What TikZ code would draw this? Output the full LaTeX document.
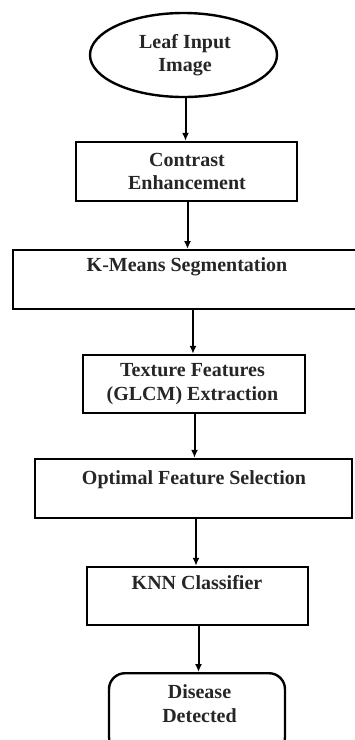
\documentclass[tikz,border=0pt]{standalone}
\usepackage{fontspec}
\setmainfont{Liberation Serif}
\usetikzlibrary{arrows.meta,shapes.geometric}
\begin{document}
\begin{tikzpicture}[x=1pt,y=-1pt,
  box/.style={draw=black,line width=2.4pt,rectangle,inner sep=0pt},
  lbl/.style={inner sep=0pt,align=center,font=\fontsize{20}{23.5}\selectfont\bfseries,text=black!85},
  arr/.style={line width=2pt,-{Latex[length=8pt,width=7pt]}}]
\useasboundingbox (0,0) rectangle (355,740);
% shapes
\node[draw=black,line width=2.4pt,ellipse,minimum width=187pt,minimum height=84pt,inner sep=0pt] (leaf) at (183.5,55) {};
\node[box,minimum width=221pt,minimum height=59pt] (contrast) at (186.5,171.5) {};
\node[box,minimum width=360pt,minimum height=59pt,anchor=north west] (kmeans) at (12,249) {};
\node[box,minimum width=222pt,minimum height=58pt] (texture) at (194,384) {};
\node[box,minimum width=317pt,minimum height=59pt] (optimal) at (193.5,488.5) {};
\node[box,minimum width=221pt,minimum height=58pt] (knn) at (197.5,596) {};
\node[box,rounded corners=16pt,minimum width=176pt,minimum height=80pt,anchor=north] (disease) at (197,672) {};
% labels
\node[lbl] (tleaf) at (185,55) {Leaf Input\\Image};
\node[lbl] (tcontrast) at (187,171.5) {Contrast\\Enhancement};
\node[lbl] (tkmeans) at (187,267) {K-Means Segmentation};
\node[lbl] (ttexture) at (192.5,384) {Texture Features\\(GLCM) Extraction};
\node[lbl] (toptimal) at (194,480) {Optimal Feature Selection};
\node[lbl] (tknn) at (197,583) {KNN Classifier};
\node[lbl] (tdisease) at (199.5,703.5) {Disease\\Detected};
% arrow x positions
\coordinate (x1) at (185.5,0);
\coordinate (x2) at (187.5,0);
\coordinate (x3) at (193,0);
\coordinate (x4) at (194.5,0);
\coordinate (x5) at (196,0);
\coordinate (x6) at (198.5,0);
\draw[arr] (x1 |- leaf.south) -- (x1 |- contrast.north);
\draw[arr] (x2 |- contrast.south) -- (x2 |- kmeans.north);
\draw[arr] (x3 |- kmeans.south) -- (x3 |- texture.north);
\draw[arr] (x4 |- texture.south) -- (x4 |- optimal.north);
\draw[arr] (x5 |- optimal.south) -- (x5 |- knn.north);
\draw[arr] (x6 |- knn.south) -- (x6 |- disease.north);
\end{tikzpicture}
\end{document}
